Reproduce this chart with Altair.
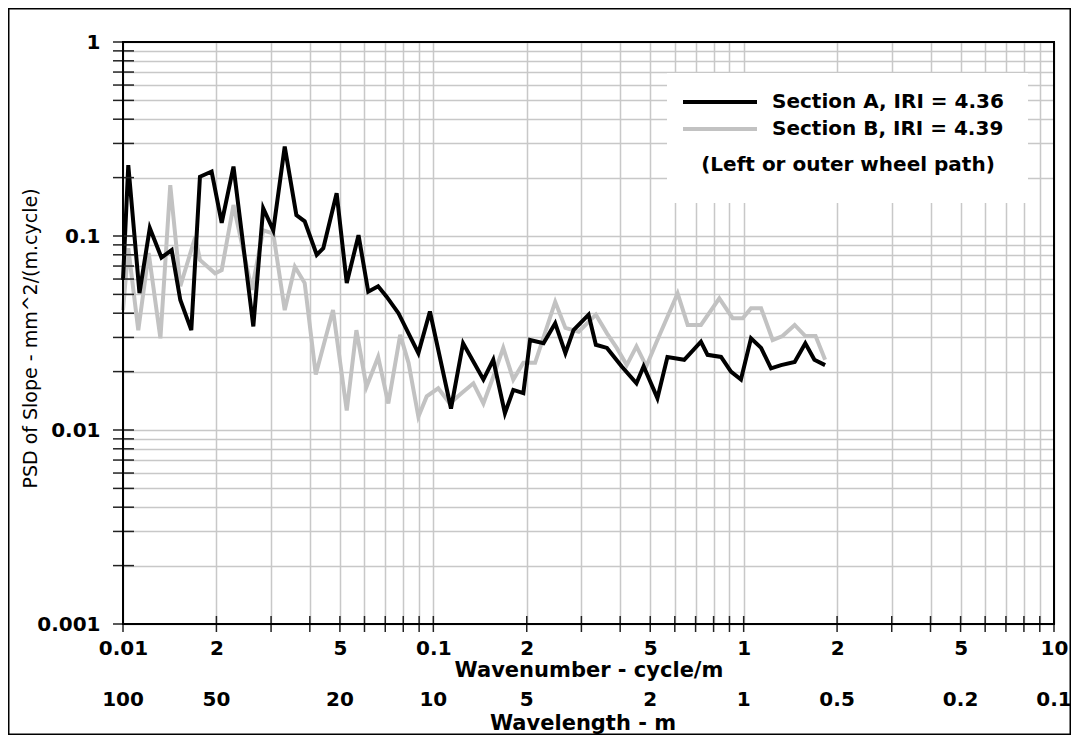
import altair as alt
import pandas as pd

# ---------------- data ----------------
a_x = [0.0100, 0.0104, 0.0113, 0.0122, 0.0133, 0.01435, 0.0153, 0.0166, 0.0177, 0.0193,
       0.0208, 0.0227, 0.0263, 0.0283, 0.0305, 0.0332, 0.0362, 0.0385, 0.0421, 0.0442,
       0.0488, 0.0526, 0.0574, 0.0617, 0.0664, 0.0707, 0.0772, 0.0895, 0.0975, 0.114,
       0.1247, 0.1450, 0.1560, 0.1701, 0.181, 0.195, 0.205, 0.2265, 0.247, 0.2664,
       0.283, 0.3165, 0.334, 0.3627, 0.404, 0.4514, 0.476, 0.5273, 0.568, 0.6435,
       0.7284, 0.765, 0.8455, 0.910, 0.980, 1.056, 1.138, 1.225, 1.32, 1.46,
       1.58, 1.69, 1.83]
a_y = [0.0593, 0.232, 0.0508, 0.110, 0.0774, 0.0846, 0.0468, 0.0327, 0.202, 0.215,
       0.117, 0.228, 0.0342, 0.139, 0.107, 0.289, 0.128, 0.119, 0.080, 0.0865,
       0.166, 0.0572, 0.101, 0.0516, 0.0551, 0.0487, 0.040, 0.0249, 0.0408, 0.0129,
       0.0280, 0.0182, 0.0230, 0.0122, 0.0161, 0.0155, 0.0291, 0.0280, 0.0355, 0.0249,
       0.0327, 0.0393, 0.0275, 0.0265, 0.0213, 0.0174, 0.0213, 0.0146, 0.0238, 0.0230,
       0.0285, 0.0244, 0.0238, 0.0200, 0.0182, 0.0297, 0.0265, 0.0208, 0.0216, 0.0224,
       0.0280, 0.0230, 0.0216]

b_x = [0.0100, 0.0104, 0.0112, 0.0121, 0.0132, 0.0142, 0.0153, 0.0171, 0.0177, 0.0198,
       0.0208, 0.0227, 0.0260, 0.0283, 0.0305, 0.0332, 0.0358, 0.0385, 0.0418, 0.0475,
       0.0526, 0.0565, 0.0609, 0.0664, 0.0716, 0.0782, 0.0832, 0.0895, 0.0952, 0.1037,
       0.113, 0.1235, 0.1346, 0.145, 0.156, 0.168, 0.181, 0.195, 0.2128, 0.247,
       0.2664, 0.294, 0.334, 0.3627, 0.39, 0.42, 0.4514, 0.4857, 0.534, 0.6126,
       0.66, 0.7284, 0.8347, 0.9214, 0.993, 1.056, 1.138, 1.24, 1.334, 1.46,
       1.58, 1.705, 1.83]
b_y = [0.0415, 0.0866, 0.0327, 0.0817, 0.0297, 0.183, 0.0551, 0.099, 0.0752, 0.0642,
       0.0667, 0.1445, 0.0528, 0.107, 0.103, 0.0415, 0.0694, 0.0572, 0.0193, 0.0415,
       0.0126, 0.0327, 0.0167, 0.0238, 0.0137, 0.0309, 0.0222, 0.0117, 0.0149, 0.0164,
       0.0137, 0.0155, 0.0174, 0.0137, 0.0188, 0.0265, 0.0182, 0.0222, 0.0222, 0.0458,
       0.0336, 0.0321, 0.0393, 0.0315, 0.0265, 0.0216, 0.0270, 0.0213, 0.0305, 0.0506,
       0.0348, 0.0348, 0.0477, 0.0377, 0.0377, 0.0424, 0.0424, 0.0291, 0.0305, 0.0348,
       0.0305, 0.0305, 0.0230]

series_names = ["Section A, IRI = 4.36", "Section B, IRI = 4.39"]
series_colors = ["#000000", "#c2c2c2"]
legend_note = "(Left or outer wheel path)"

x_major_ticks = [0.01, 0.02, 0.05, 0.1, 0.2, 0.5, 1, 2, 5, 10]
x_tick_labels = ["0.01", "2", "5", "0.1", "2", "5", "1", "2", "5", "10"]
wavelength_labels = ["100", "50", "20", "10", "5", "2", "1", "0.5", "0.2", "0.1"]
y_major_ticks = [0.001, 0.01, 0.1, 1]
y_tick_labels = ["0.001", "0.01", "0.1", "1"]

x_title = "Wavenumber - cycle/m"
x2_title = "Wavelength - m"
y_title = "PSD of Slope - mm^2/(m.cycle)"

# grid / tick positions (1..9 per decade)
x_minor = [round(m * 10 ** e, 6) for e in range(-2, 1) for m in range(1, 10)] + [10]
y_minor = [round(m * 10 ** e, 6) for e in range(-3, 0) for m in range(1, 10)] + [1]

FONT = "DejaVu Sans"
W, H = 931, 582

def label_expr(vals, labs):
    s = ""
    for v, l in zip(vals, labs):
        s += f"datum.value == {v} ? '{l}' : "
    return s + "''"

xs = alt.Scale(type="log", domain=[0.01, 10], nice=False)
ys = alt.Scale(type="log", domain=[0.001, 1], nice=False)

x_axis = alt.Axis(values=x_minor, grid=True, gridColor="#c8c8c8", gridWidth=1.5,
                  ticks=False, tickSize=0, domain=False,
                  labelExpr=label_expr(x_major_ticks, x_tick_labels),
                  labelFont=FONT, labelFontSize=20, labelFontWeight="bold",
                  labelColor="#000", labelPadding=24, labelBaseline="middle",
                  labelFlush=False, labelOverlap=False, labelBound=False,
                  title=x_title, titleFont=FONT, titleFontSize=21,
                  titleFontWeight="bold", titleColor="#000",
                  titleY=46, titleBaseline="middle")
y_axis = alt.Axis(values=y_minor, grid=True, gridColor="#c8c8c8", gridWidth=1.5,
                  ticks=False, tickSize=0, domain=False,
                  labelExpr=label_expr(y_major_ticks, y_tick_labels),
                  labelFont=FONT, labelFontSize=20, labelFontWeight="bold",
                  labelColor="#000", labelPadding=23, labelBaseline="middle",
                  labelFlush=False, labelOverlap=False, labelBound=False,
                  title=y_title, titleFont=FONT, titleFontSize=19,
                  titleFontWeight="normal", titleColor="#000",
                  titleX=-93, titleY=296, titleAngle=270,
                  titleAlign="center", titleBaseline="middle")

df_a = pd.DataFrame({"x": a_x, "y": a_y})
df_b = pd.DataFrame({"x": b_x, "y": b_y})

line_b = alt.Chart(df_b).mark_line(strokeWidth=4, color=series_colors[1]).encode(
    x=alt.X("x:Q", scale=xs, axis=x_axis),
    y=alt.Y("y:Q", scale=ys, axis=y_axis))
line_a = alt.Chart(df_a).mark_line(strokeWidth=4, color=series_colors[0]).encode(
    x=alt.X("x:Q", scale=xs), y=alt.Y("y:Q", scale=ys))

# crossing tick marks
ytick = alt.Chart(pd.DataFrame({"y": y_minor})).mark_rule(color="#222", strokeWidth=1.5).encode(
    y=alt.Y("y:Q", scale=ys), x=alt.value(-10), x2=alt.value(11))
xtick = alt.Chart(pd.DataFrame({"x": x_minor})).mark_rule(color="#222", strokeWidth=1.5).encode(
    x=alt.X("x:Q", scale=xs), y=alt.value(H - 8), y2=alt.value(H + 8))

# plot border
border = alt.Chart(pd.DataFrame({"k": [0]})).mark_rect(
    fillOpacity=0, stroke="#000", strokeWidth=2).encode(
    x=alt.value(0), x2=alt.value(W), y=alt.value(0), y2=alt.value(H))

# second (wavelength) scale labels
wl = alt.Chart(pd.DataFrame({"x": x_major_ticks, "lab": wavelength_labels})).mark_text(
    font=FONT, fontSize=20, fontWeight="bold", baseline="middle", color="#000").encode(
    x=alt.X("x:Q", scale=xs), y=alt.value(H + 76), text="lab:N")
wl_title = alt.Chart(pd.DataFrame({"t": [x2_title]})).mark_text(
    font=FONT, fontSize=21, fontWeight="bold", baseline="middle", color="#000").encode(
    x=alt.value(460), y=alt.value(H + 100), text="t:N")

# legend
leg_box = alt.Chart(pd.DataFrame({"k": [0]})).mark_rect(fill="white").encode(
    x=alt.value(544), x2=alt.value(905), y=alt.value(31), y2=alt.value(161))
leg_line_a = alt.Chart(pd.DataFrame({"k": [0]})).mark_rule(
    color=series_colors[0], strokeWidth=4).encode(
    x=alt.value(560), x2=alt.value(634), y=alt.value(60))
leg_line_b = alt.Chart(pd.DataFrame({"k": [0]})).mark_rule(
    color=series_colors[1], strokeWidth=4).encode(
    x=alt.value(560), x2=alt.value(634), y=alt.value(87))
leg_txt_a = alt.Chart(pd.DataFrame({"t": [series_names[0]]})).mark_text(
    font=FONT, fontSize=20, fontWeight="bold", align="left", baseline="middle", color="#000").encode(
    x=alt.value(649), y=alt.value(60), text="t:N")
leg_txt_b = alt.Chart(pd.DataFrame({"t": [series_names[1]]})).mark_text(
    font=FONT, fontSize=20, fontWeight="bold", align="left", baseline="middle", color="#000").encode(
    x=alt.value(649), y=alt.value(87), text="t:N")
leg_note = alt.Chart(pd.DataFrame({"t": [legend_note]})).mark_text(
    font=FONT, fontSize=20, fontWeight="bold", align="center", baseline="middle", color="#000").encode(
    x=alt.value(725), y=alt.value(123), text="t:N")

# outer frame
frame = alt.Chart(pd.DataFrame({"k": [0]})).mark_rect(
    fillOpacity=0, stroke="#000", strokeWidth=1.5).encode(
    x=alt.value(-114.25), x2=alt.value(W + 16.25), y=alt.value(-33.25), y2=alt.value(H + 110.25))

chart = alt.layer(
    line_b, line_a, ytick, xtick, border, wl, wl_title,
    leg_box, leg_line_a, leg_line_b, leg_txt_a, leg_txt_b, leg_note, frame
).properties(
    width=W, height=H,
    autosize=alt.AutoSizeParams(type="none"),
    padding={"left": 115, "top": 34, "right": 17, "bottom": 111},
    background="white",
).configure_view(stroke=None)

chart.save("out.html", embed_options={"renderer": "svg", "actions": False})
